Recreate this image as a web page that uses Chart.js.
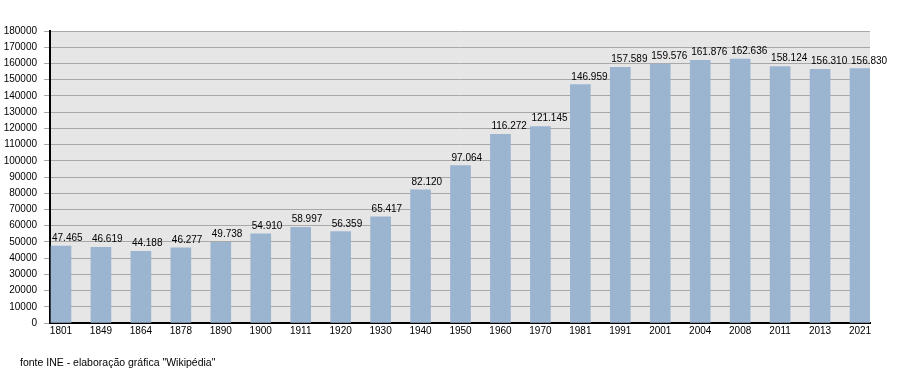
<!DOCTYPE html>
<html>
<head>
<meta charset="utf-8">
<script src="https://cdn.jsdelivr.net/npm/chart.js@4/dist/chart.umd.min.js"></script>
<style>
  body { margin: 0; background: #fff; }
  #wrap { position: relative; width: 900px; height: 373px; }
  #footer {
    position: absolute; left: 20px; top: 356px;
    font: 10.5px "Liberation Sans", Arial, sans-serif; color: #000;
  }
</style>
</head>
<body>
<div id="wrap">
  <canvas id="popChart" width="900" height="373"></canvas>
  <div id="footer">fonte INE - elaboração gráfica "Wikipédia"</div>
</div>
<script>
// Census years and population
const years = ["1801", "1849", "1864", "1878", "1890", "1900", "1911", "1920", "1930", "1940",
               "1950", "1960", "1970", "1981", "1991", "2001", "2004", "2008", "2011", "2013", "2021"];
const population = [47465, 46619, 44188, 46277, 49738, 54910, 58997, 56359, 65417, 82120,
                     97064, 116272, 121145, 146959, 157589, 159576, 161876, 162636, 158124, 156310, 156830];
const yMin = 0;
const yMax = 180000;
const yStep = 10000;

// Format with dot as thousands separator
function fmt(n) {
    return String(n).replace(/\B(?=(\d{3})+(?!\d))/g, ".");
}

// Grey plot background
const plotBackground = {
    id: "plotBackground",
    beforeDraw(chart) {
        const a = chart.chartArea;
        const ctx = chart.ctx;
        ctx.save();
        ctx.fillStyle = "#e6e6e6";
        ctx.fillRect(a.left, a.top, a.right - a.left, a.bottom - a.top);
        ctx.restore();
    }
};

// Value labels on top of each bar (start at the bar's left edge)
const barLabels = {
    id: "barLabels",
    afterDatasetsDraw(chart) {
        const ctx = chart.ctx;
        const meta = chart.getDatasetMeta(0);
        ctx.save();
        ctx.font = '10px "Liberation Sans", Arial, sans-serif';
        ctx.fillStyle = "#000";
        ctx.textAlign = "left";
        ctx.textBaseline = "alphabetic";
        meta.data.forEach(function (bar, i) {
            ctx.fillText(fmt(population[i]), bar.x - bar.width / 2 + 1, bar.y - 5);
        });
        ctx.restore();
    }
};

const context = document.getElementById("popChart").getContext("2d");
new Chart(context, {
    type: "bar",
    data: {
        datasets: [{
            data: population.map((v, i) => ({ x: i, y: v })),
            backgroundColor: "#9bb4d0",
            borderWidth: 0,
            barThickness: 20,
        }]
    },
    options: {
        responsive: false,
        animation: false,
        layout: { padding: { top: 31, right: 30, left: 0, bottom: 0 } },
        plugins: {
            legend: { display: false },
            tooltip: { enabled: false },
        },
        scales: {
            x: {
                type: "linear",
                offset: false,
                min: -0.275,
                max: 20.25,
                grid: { display: false, drawTicks: false, tickLength: 0, offset: false },
                border: { display: true, color: "#000", width: 2 },
                ticks: {
                    stepSize: 1,
                    includeBounds: false,
                    autoSkip: false,
                    maxRotation: 0,
                    padding: 2,
                    color: "#000",
                    font: { family: "Liberation Sans", size: 10 },
                    callback: (v) => Number.isInteger(v) ? years[v] : "",
                },
                afterFit(scale) { scale.height = 50; },
            },
            y: {
                min: yMin,
                max: yMax,
                grid: { color: "#a8a8a8", lineWidth: 1, tickLength: 6 },
                border: { display: true, color: "#000", width: 2 },
                ticks: {
                    stepSize: yStep,
                    padding: 7,
                    color: "#000",
                    font: { family: "Liberation Sans", size: 10 },
                    callback: (v) => String(v),
                },
                afterFit(scale) { scale.width = 50; },
            }
        }
    },
    plugins: [plotBackground, barLabels]
});
</script>
</body>
</html>
